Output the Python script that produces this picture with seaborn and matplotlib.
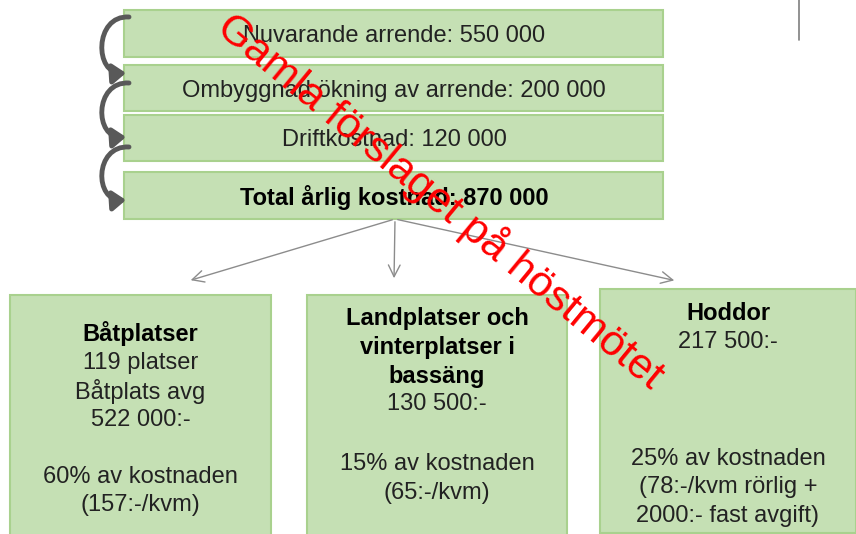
import matplotlib
matplotlib.use("Agg")
import matplotlib.pyplot as plt
import seaborn as sns
from matplotlib.patches import Rectangle, FancyArrowPatch
from matplotlib.path import Path

# kostnadsposter (översta rutorna)
top_labels = ["Nuvarande arrende: 550 000",
              "Ombyggnad ökning av arrende: 200 000",
              "Driftkostnad: 120 000",
              "Total årlig kostnad: 870 000"]
top_bold = [False, False, False, True]

# fördelning (nedre rutorna)
group_titles = [["Båtplatser"],
                ["Landplatser och", "vinterplatser i", "bassäng"],
                ["Hoddor"]]
group_amounts = [["119 platser", "Båtplats avg", "522 000:-"],
                 ["130 500:-"],
                 ["217 500:-"]]
group_shares = [["60% av kostnaden", "(157:-/kvm)"],
                ["15% av kostnaden", "(65:-/kvm)"],
                ["25% av kostnaden", "(78:-/kvm rörlig +", "2000:- fast avgift)"]]

watermark = "Gamla förslaget på höstmötet"

sns.set_theme(style="white")
plt.rcParams['font.family'] = ['Liberation Sans', 'DejaVu Sans']

fill = "#C5E0B4"
edge = "#A9D18E"
txt = "#222222"
fs = 17
step = 28.5

fig = plt.figure(figsize=(8.56, 5.34), dpi=100)
ax = fig.add_axes([0, 0, 1, 1])
ax.set_xlim(0, 856)
ax.set_ylim(534, 0)
ax.axis("off")

# översta rutorna
top_y = [(10, 57), (65, 111), (115, 161), (172, 219)]
for (y0, y1), lab, b in zip(top_y, top_labels, top_bold):
    ax.add_patch(Rectangle((124, y0), 539, y1 - y0, facecolor=fill, edgecolor=edge, lw=1.5))
    ax.text(394, (y0 + y1) / 2 + 2.5, lab, ha="center", va="center", fontsize=fs,
            color="#000000" if b else txt, fontweight="bold" if b else "normal")

# böjda pilar till vänster
arcs = [(17, 73), (83, 137), (147, 200)]
for s, e in arcs:
    p = Path([(129, s), (94, s - 2), (94, e + 2), (126, e)],
             [Path.MOVETO, Path.CURVE4, Path.CURVE4, Path.CURVE4])
    ax.add_patch(FancyArrowPatch(path=p, arrowstyle="-|>,head_length=6,head_width=4.5",
                                 color="#595959", lw=3.5, mutation_scale=1.3))

# lodrät linje uppe till höger
ax.plot([799, 799], [0, 40], color="#7f7f7f", lw=1.2)

# pilar från totalrutan
for tx in [188, 394, 677]:
    ax.annotate("", xy=(tx, 281), xytext=(395, 219),
                arrowprops=dict(arrowstyle="->,head_length=0.7,head_width=0.35",
                                color="#8c8c8c", lw=1))

# nedre rutorna
boxes = [(10, 295, 261, 260), (307, 295, 260, 260), (600, 289, 256, 244)]
title_y = [334, 319, 314]
share_y = [477, 464, 459]
for (x0, y0, w, h), tl, am, sh, ty, sy in zip(boxes, group_titles, group_amounts,
                                              group_shares, title_y, share_y):
    ax.add_patch(Rectangle((x0, y0), w, h, facecolor=fill, edgecolor=edge, lw=1.5))
    cx = x0 + w / 2
    y = ty
    for line in tl:
        ax.text(cx, y, line, ha="center", va="center", fontsize=fs, color="#000000",
                fontweight="bold")
        y += step
    for line in am:
        ax.text(cx, y, line, ha="center", va="center", fontsize=fs, color=txt)
        y += step
    y = sy
    for line in sh:
        ax.text(cx, y, line, ha="center", va="center", fontsize=fs, color=txt)
        y += step

# vattenstämpel
ax.text(441, 201, watermark, ha="center", va="center", rotation=-39.5,
        rotation_mode="anchor", fontsize=31, color="#ff0000")

fig.savefig("out.png", dpi=100)
